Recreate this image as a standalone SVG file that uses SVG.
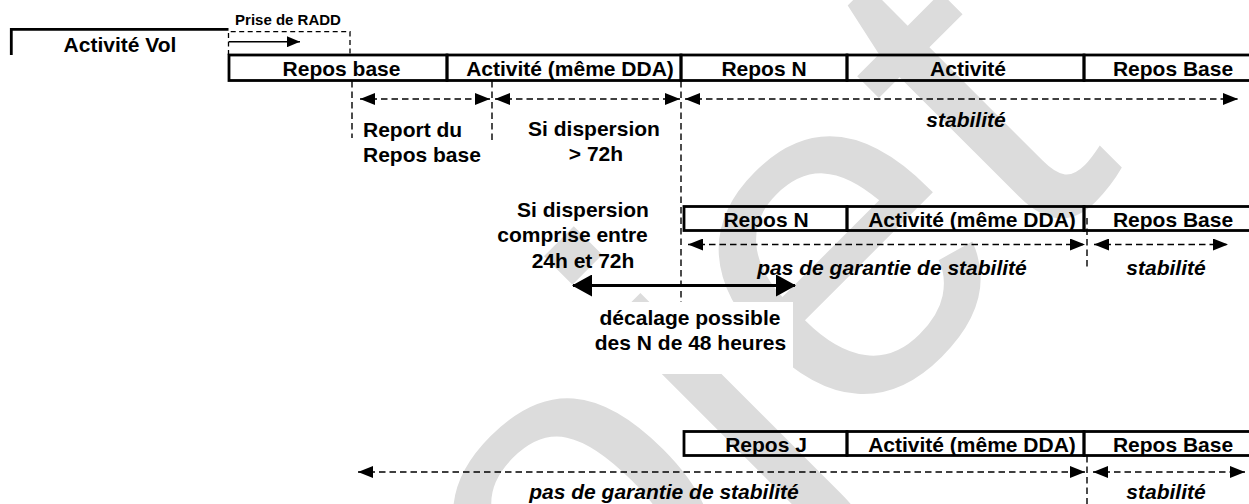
<svg xmlns="http://www.w3.org/2000/svg" width="1249" height="504" viewBox="0 0 1249 504">
<style>
.wm{font-family:"Liberation Sans",Arial,sans-serif;font-size:480px;fill:#dcdcdc}
.box{fill:none;stroke:#000;stroke-width:2.8}
.t{font-family:"Liberation Sans",Arial,sans-serif;font-weight:bold;font-size:21px;text-anchor:middle;fill:#000}
.l{text-anchor:start}
.it{font-style:italic}
.dl{fill:none;stroke:#000;stroke-width:1.4;stroke-dasharray:6.5 4}
.da{fill:none;stroke:#000;stroke-width:1.4;stroke-dasharray:6.5 4;marker-start:url(#ah);marker-end:url(#ah)}
</style>
<defs>
<marker id="ah" markerUnits="userSpaceOnUse" markerWidth="15" markerHeight="12" refX="15" refY="6" orient="auto-start-reverse"><path d="M0,0 L15,6 L0,12 z" fill="#000"/></marker>
<marker id="big" markerUnits="userSpaceOnUse" markerWidth="20" markerHeight="22" refX="19" refY="11" orient="auto-start-reverse"><path d="M0,0 L20,11 L0,22 z" fill="#000"/></marker>
<marker id="sm" markerUnits="userSpaceOnUse" markerWidth="13" markerHeight="11" refX="13" refY="5.5" orient="auto"><path d="M0,0 L13,5.5 L0,11 z" fill="#000"/></marker>
</defs>
<rect width="1249" height="504" fill="#fff"/>
<g id="watermark"><text class="wm" transform="translate(239,1053) rotate(-45)">Projet</text></g>
<g id="decalage-bg"><rect x="588" y="302" width="205" height="72" fill="#fff"/></g>

<g id="activite-vol">
<path class="box" d="M228.5,29.3 H11.3 V55"/>
<text class="t" x="120" y="51.7">Activité Vol</text>
</g>
<g id="prise-radd">
<path d="M228.5,55 V31.7 H350 V55" fill="none" stroke="#000" stroke-width="1.3" stroke-dasharray="5 3.5"/>
<text class="t" x="288" y="25" style="font-size:15px">Prise de RADD</text>
</g>

<g id="row1">
<g id="r1-repos-base"><rect class="box" x="229" y="55" width="218" height="25.5"/><text class="t" x="341.5" y="76">Repos base</text></g>
<g id="r1-activite-dda"><rect class="box" x="447" y="55" width="234" height="25.5"/><text class="t" x="570" y="76">Activité (même DDA)</text></g>
<g id="r1-repos-n"><rect class="box" x="681" y="55" width="166" height="25.5"/><text class="t" x="764" y="76">Repos N</text></g>
<g id="r1-activite"><rect class="box" x="847" y="55" width="237" height="25.5"/><text class="t" x="968" y="76">Activité</text></g>
<g id="r1-repos-base2"><rect class="box" x="1084" y="55" width="180" height="25.5"/><text class="t" x="1173" y="76">Repos Base</text></g>
</g>

<g id="row2">
<g id="r2-repos-n"><rect class="box" x="684" y="206.5" width="163" height="24"/><text class="t" x="766" y="226.5">Repos N</text></g>
<g id="r2-activite-dda"><rect class="box" x="847" y="206.5" width="237" height="24"/><text class="t" x="972" y="226.5">Activité (même DDA)</text></g>
<g id="r2-repos-base"><rect class="box" x="1084" y="206.5" width="180" height="24"/><text class="t" x="1173" y="226.5">Repos Base</text></g>
</g>

<g id="row3">
<g id="r3-repos-j"><rect class="box" x="684" y="431.5" width="163" height="24"/><text class="t" x="766" y="451.5">Repos J</text></g>
<g id="r3-activite-dda"><rect class="box" x="847" y="431.5" width="237" height="24"/><text class="t" x="972" y="451.5">Activité (même DDA)</text></g>
<g id="r3-repos-base"><rect class="box" x="1084" y="431.5" width="180" height="24"/><text class="t" x="1173" y="451.5">Repos Base</text></g>
</g>

<g id="connectors">
<line x1="229" y1="41.7" x2="300" y2="41.7" stroke="#000" stroke-width="1.5" marker-end="url(#sm)"/>
<line class="dl" x1="352" y1="81" x2="352" y2="138"/>
<line class="dl" x1="492" y1="81" x2="492" y2="140"/>
<line class="dl" x1="681" y1="81" x2="681" y2="302"/>
<line class="dl" x1="1087" y1="218" x2="1087" y2="268"/>
<line class="dl" x1="1087" y1="456" x2="1087" y2="504"/>
<line class="da" x1="360" y1="99" x2="490" y2="99"/>
<line class="da" x1="495" y1="99" x2="680" y2="99"/>
<line class="da" x1="685" y1="99" x2="1238" y2="99"/>
<line class="da" x1="688" y1="244.5" x2="1085" y2="244.5"/>
<line class="da" x1="1094" y1="244.5" x2="1228" y2="244.5"/>
<line class="da" x1="358" y1="472" x2="1085" y2="472"/>
<line class="da" x1="1093" y1="472" x2="1245" y2="472"/>
<line x1="573" y1="285.5" x2="795" y2="285.5" stroke="#000" stroke-width="3.2" marker-start="url(#big)" marker-end="url(#big)"/>
</g>

<g id="labels">
<g id="lbl-report"><text class="t l" x="363" y="137">Report du</text><text class="t l" x="363" y="162">Repos base</text></g>
<g id="lbl-disp72"><text class="t" x="594" y="136">Si dispersion</text><text class="t" x="596" y="161">&gt; 72h</text></g>
<g id="lbl-stab1"><text class="t it" x="966" y="127">stabilité</text></g>
<g id="lbl-disp2472"><text class="t" x="583" y="217">Si dispersion</text><text class="t" x="572.5" y="242">comprise entre</text><text class="t" x="583" y="268">24h et 72h</text></g>
<g id="lbl-pasgar2"><text class="t it" x="892" y="275">pas de garantie de stabilité</text></g>
<g id="lbl-stab2"><text class="t it" x="1166" y="275">stabilité</text></g>
<g id="lbl-decalage"><text class="t" x="690" y="325">décalage possible</text><text class="t" x="690.5" y="350">des N de 48 heures</text></g>
<g id="lbl-pasgar3"><text class="t it" x="664" y="498.5">pas de garantie de stabilité</text></g>
<g id="lbl-stab3"><text class="t it" x="1166" y="498.5">stabilité</text></g>
</g>
</svg>
